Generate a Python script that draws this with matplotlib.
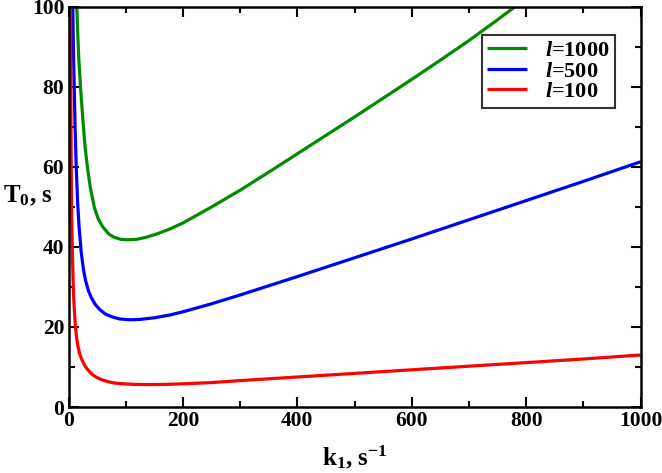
import matplotlib
matplotlib.use('Agg')
import matplotlib.pyplot as plt
from matplotlib.ticker import MultipleLocator

plt.rcParams['font.family'] = 'Liberation Serif'
plt.rcParams['font.weight'] = 'bold'
plt.rcParams['mathtext.fontset'] = 'custom'
plt.rcParams['mathtext.it'] = 'Liberation Serif:italic:bold'
plt.rcParams['mathtext.rm'] = 'Liberation Serif:bold'
plt.rcParams['mathtext.bf'] = 'Liberation Serif:bold'

# l=1000
k_g = [14.5, 16, 18, 21, 25, 29, 33, 38, 45, 52, 60, 70, 80, 92, 104, 118, 135, 155, 177,
       200, 250, 300, 350, 400, 450, 500, 550, 600, 650, 700, 750, 780]
T_g = [100, 94, 87, 80, 72, 65, 60, 55, 50, 47, 45, 43.3, 42.4, 41.9, 41.8, 41.9, 42.4, 43.3, 44.5,
       46.0, 50.0, 54.2, 58.7, 63.3, 67.9, 72.5, 77.2, 81.9, 86.7, 91.6, 96.8, 100]

# l=500
k_b = [7.5, 8.2, 9, 10, 11.5, 13.5, 16, 18.5, 22, 26, 30, 35, 40, 47, 55, 65, 77, 90, 108,
       125, 150, 177, 200, 250, 300, 350, 400, 500, 600, 700, 800, 900, 1000]
T_b = [100, 93, 87, 80, 70, 60, 51, 45, 39, 34.5, 31.5, 29, 27.3, 25.6, 24.3, 23.2, 22.5, 22.0, 21.8,
       21.9, 22.3, 23.0, 23.8, 25.8, 28.0, 30.3, 32.6, 37.3, 42.0, 46.8, 51.6, 56.4, 61.3]

# l=100
k_r = [3.5, 3.8, 4.2, 4.6, 5, 5.6, 6.3, 7, 8, 9, 10.5, 12, 14, 16.5, 19, 22, 26, 30, 35, 41,
       48, 57, 68, 80, 95, 115, 140, 170, 200, 250, 300, 400, 500, 600, 700, 800, 900, 1000]
T_r = [100, 88, 75, 64, 56, 48, 42, 37, 32, 27.5, 23.5, 20.3, 17.5, 15.2, 13.6, 12.3, 11, 10, 9.1, 8.2,
       7.5, 6.9, 6.35, 6.0, 5.8, 5.65, 5.6, 5.65, 5.8, 6.1, 6.6, 7.5, 8.4, 9.3, 10.2, 11.1, 12.0, 13.0]

fig = plt.figure(figsize=(6.62, 4.73), dpi=100)
ax = fig.add_axes([68.5 / 662, 1 - 407 / 473, (640.5 - 68.5) / 662, (407 - 7) / 473])

line_kw = dict(lw=2.3, solid_joinstyle='round', solid_capstyle='butt')
ax.plot(k_g, T_g, color='#008c00', label='$l$=1000', **line_kw)
ax.plot(k_b, T_b, color='#0000ff', label='$l$=500', **line_kw)
ax.plot(k_r, T_r, color='#ff0000', label='$l$=100', **line_kw)

ax.set_xlim(0, 1000)
ax.set_ylim(0, 100)
ax.xaxis.set_major_locator(MultipleLocator(200))
ax.xaxis.set_minor_locator(MultipleLocator(100))
ax.yaxis.set_major_locator(MultipleLocator(20))
ax.yaxis.set_minor_locator(MultipleLocator(10))
ax.tick_params(which='both', direction='in', top=True, right=True, width=1.5, labelsize=15.5)
ax.tick_params(which='major', length=7.5, pad=3)
ax.tick_params(which='minor', length=4)
for s in ax.spines.values():
    s.set_linewidth(1.8)

ax.set_xlabel('k$_1$, s$^{-1}$', fontsize=18, fontweight='bold', labelpad=9)
fig.text(3 / 662, 1 - 196 / 473, 'T$_0$, s', fontsize=18, fontweight='bold',
         ha='left', va='center')

leg = ax.legend(loc='upper right', bbox_to_anchor=(546.5 / 572, 372 / 400), fontsize=16,
                frameon=True, fancybox=False, handlelength=1.8, borderpad=0.25,
                labelspacing=0.0, handletextpad=0.8, borderaxespad=0)
leg.get_frame().set_edgecolor('black')
leg.get_frame().set_linewidth(1.5)

fig.savefig('out.png', dpi=100)
